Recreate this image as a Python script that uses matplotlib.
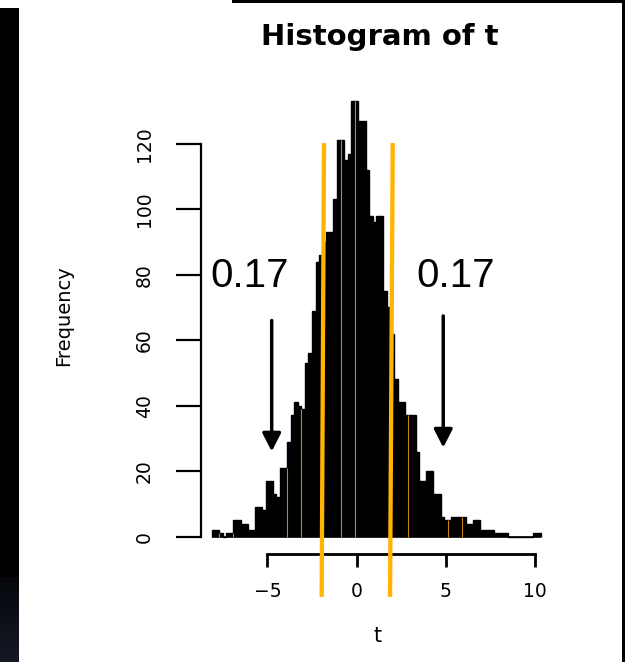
import matplotlib
matplotlib.use('Agg')
import matplotlib.pyplot as plt
import numpy as np
from matplotlib.patches import Rectangle

# ---------------- data ----------------
bin_start = -8.1
bin_width = 0.2
counts = [2, 2, 1, 0, 1, 1, 5, 5, 4, 4,
          2, 2, 9, 9, 8, 17, 17, 13, 12, 21,
          21, 29, 37, 41, 40, 39, 53, 56, 69, 84,
          86, 90, 93, 93, 103, 121, 121, 115, 117, 133,
          133, 127, 127, 112, 98, 96, 98, 98, 75, 70,
          62, 48, 41, 41, 37, 37, 37, 26, 17, 17,
          20, 20, 13, 13, 6, 5, 5, 6, 6, 6,
          6, 4, 4, 5, 5, 2, 2, 2, 2, 1,
          1, 1, 1, 0, 0, 0, 0, 0, 0, 0,
          1, 1]
edges = bin_start + bin_width * np.arange(len(counts) + 1)

x_ticks = [-5, 0, 5, 10]
x_tick_labels = ['\u22125', '0', '5', '10']
y_ticks = [0, 20, 40, 60, 80, 100, 120]
y_tick_labels = [str(v) for v in y_ticks]

# hand-drawn critical-value lines (t at top / bottom, count at top / bottom)
crit_x_top = [-1.83, 2.02]
crit_x_bottom = [-1.96, 1.87]
crit_y_top = 120.2
crit_y_bottom = -18.4

# arrows and tail-probability labels
arrow_x = [-4.76, 4.85]
arrow_top = [66.0, 67.4]
arrow_tip = [26.0, 27.2]
p_labels = ['0.17', '0.17']
p_label_x = [-5.97, 5.56]
p_label_y = 76.3

# thin orange seams visible between some bars
seam_edges = [-7.7, -6.9, -3.9, -3.1, -0.9, -0.1, 2.9, 5.1, 5.9]

# ---------------- figure ----------------
W, H = 625, 662
fig = plt.figure(figsize=(W / 100, H / 100), dpi=100)
fig.patch.set_facecolor('white')

# screenshot frame: dark strip on the left with a slight navy fade at the bottom
strip = fig.add_axes([0, 0, 19 / W, (H - 8) / H])
strip.set_axis_off()
rows = H - 8
grad = np.zeros((rows, 1, 3))
fade_start = 577 - 8
for r in range(rows):
    if r >= fade_start:
        f = (r - fade_start) / (rows - fade_start)
        grad[r, 0] = np.array([0x05, 0x07, 0x0c]) / 255 * (1 - f) + np.array([0x14, 0x19, 0x24]) / 255 * f
strip.imshow(grad, aspect='auto', interpolation='nearest', extent=[0, 1, 0, 1], origin='upper')

fig.patches.append(Rectangle((232 / W, (H - 3) / H), 1, 3 / H, transform=fig.transFigure,
                             facecolor='black', edgecolor='none', zorder=0))
fig.patches.append(Rectangle((622 / W, 0), 3 / W, 1, transform=fig.transFigure,
                             facecolor='black', edgecolor='none', zorder=0))

ax_left, ax_right, ax_bottom, ax_top = 201, 556.6, 554, 83.8
ax = fig.add_axes([ax_left / W, (H - ax_bottom) / H, (ax_right - ax_left) / W,
                   (ax_bottom - ax_top) / H])
ax.set_facecolor('none')
ax.set_xlim(-8.72, 11.2)
ax.set_ylim(-5.3, 138.3)

# histogram: one filled outline (no seams) plus the zero baseline of the bar borders
ax.stairs(counts, edges, fill=True, color='black', zorder=2)
ax.stairs(counts, edges, fill=False, color='black', lw=1.0, zorder=2)
ax.hlines(0, edges[0], edges[-1], color='black', lw=1.2, zorder=2)

# seams
seam_h = []
for e in seam_edges:
    i = int(round((e - bin_start) / bin_width))
    seam_h.append(min(counts[i - 1], counts[i]))
ax.vlines(seam_edges, 0, seam_h, color='#c8860a', lw=0.8, zorder=3)

for sp in ['top', 'right']:
    ax.spines[sp].set_visible(False)
ax.spines['bottom'].set_bounds(x_ticks[0], x_ticks[-1])
ax.spines['left'].set_bounds(y_ticks[0], y_ticks[-1])
ax.spines['bottom'].set_linewidth(2)
ax.spines['left'].set_linewidth(1.6)

ax.set_xticks(x_ticks, x_tick_labels)
ax.set_yticks(y_ticks, y_tick_labels)
ax.tick_params(axis='x', length=9, width=2, pad=11, labelsize=13.5)
ax.tick_params(axis='y', length=18, width=1.6, pad=16, labelsize=13.5, labelrotation=90)
for lbl in ax.get_yticklabels():
    lbl.set_va('center')

# critical lines
for xt, xb in zip(crit_x_top, crit_x_bottom):
    ax.plot([xb, xt], [crit_y_bottom, crit_y_top], color='#FFB400', lw=3.1,
            solid_capstyle='butt', clip_on=False, zorder=4)

# arrows
for x, t0, t1 in zip(arrow_x, arrow_top, arrow_tip):
    ax.annotate('', xy=(x, t1), xytext=(x, t0),
                arrowprops=dict(arrowstyle='-|>,head_length=0.55,head_width=0.28',
                                color='black', lw=2.5, shrinkA=0, shrinkB=0,
                                mutation_scale=20), zorder=5)

for x, s in zip(p_label_x, p_labels):
    ax.text(x, p_label_y, s, ha='center', va='baseline', fontsize=29,
            family='Liberation Sans', color='black', zorder=6)

ax.set_xlabel('t', fontsize=15)
ax.xaxis.set_label_coords((378 - ax_left) / (ax_right - ax_left),
                          (ax_bottom - 625.7) / (ax_bottom - ax_top))
ax.set_ylabel('Frequency', fontsize=14)
ax.yaxis.set_label_coords((73 - ax_left) / (ax_right - ax_left),
                          (ax_bottom - 316) / (ax_bottom - ax_top))

fig.text(380 / W, (H - 45) / H, 'Histogram of t', ha='center', va='baseline',
         fontsize=21, fontweight='bold')

fig.savefig('out.png', dpi=100)
